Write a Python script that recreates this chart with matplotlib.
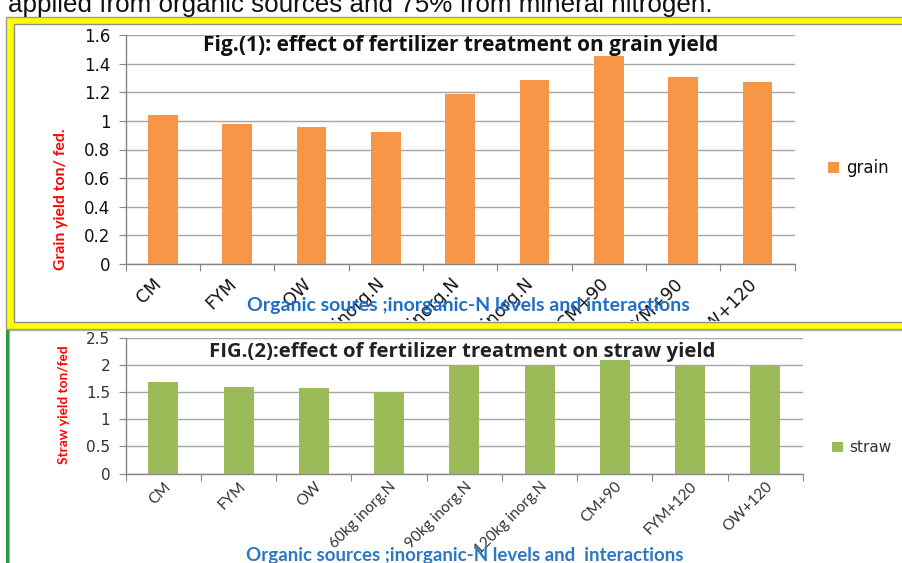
import matplotlib
matplotlib.use("Agg")
import matplotlib.pyplot as plt
from matplotlib.patches import Rectangle
from matplotlib.transforms import Bbox, ScaledTranslation

W, H = 903, 563

treatments_grain = ['CM', 'FYM', 'OW', '60kg inorg.N', '90kg inorg.N', '120kg inorg.N',
                    'CM+90', 'FYM+90', 'OW+120']
treatments_straw = ['CM', 'FYM', 'OW', '60kg inorg.N', '90kg inorg.N', '120kg inorg.N',
                    'CM+90', 'FYM+120', 'OW+120']
grain = [1.04, 0.98, 0.96, 0.925, 1.19, 1.285, 1.455, 1.31, 1.275]
straw = [1.68, 1.60, 1.58, 1.50, 1.98, 2.01, 2.10, 2.00, 2.00]
grain_ticks = [0, 0.2, 0.4, 0.6, 0.8, 1, 1.2, 1.4, 1.6]
straw_ticks = [0, 0.5, 1, 1.5, 2, 2.5]


def box(x0, y0, x1, y1):
    # pixel box (top-left origin) -> figure fraction [l, b, w, h]
    return [x0 / W, 1 - y1 / H, (x1 - x0) / W, (y1 - y0) / H]


def fx(x):
    return x / W


def fy(y):
    return 1 - y / H


def rect(x0, y0, x1, y1, **kw):
    r = Rectangle((fx(x0), fy(y1)), fx(x1) - fx(x0), fy(y0) - fy(y1),
                  transform=fig.transFigure, zorder=-1, **kw)
    fig.patches.append(r)
    return r


def setup_axes(ax, values, labels, yticks, color, tick_size, tick_color, xlab_size,
               xlab_font, pad, shift):
    n = len(values)
    xs = [i + 0.5 for i in range(n)]
    ax.bar(xs, values, width=0.4, color=color, zorder=3)
    ax.set_xlim(0, n)
    ax.set_ylim(yticks[0], yticks[-1])
    ax.set_yticks(yticks)
    ax.set_yticklabels(['%g' % v for v in yticks], fontsize=tick_size, color=tick_color,
                       family='DejaVu Sans')
    ax.set_xticks(range(n + 1))
    ax.set_xticklabels([])
    ax.set_xticks(xs, minor=True)
    ax.set_xticklabels(labels, minor=True, rotation=45, ha='right', va='top',
                       rotation_mode='anchor', fontsize=xlab_size, family=xlab_font,
                       color=tick_color)
    ax.tick_params(axis='x', which='minor', length=0, pad=pad)
    ax.tick_params(axis='x', which='major', length=5, color='#868686', direction='out')
    ax.tick_params(axis='y', length=5, color='#868686', direction='out', pad=6)
    ax.grid(axis='y', color='#a6a6a6', linewidth=1, zorder=0)
    for s in ['top', 'right']:
        ax.spines[s].set_visible(False)
    for s in ['left', 'bottom']:
        ax.spines[s].set_color('#868686')
        ax.spines[s].set_linewidth(1)
    ax.set_facecolor('none')
    ax.set_zorder(2)
    off = ScaledTranslation(shift[0] / 100, shift[1] / 100, fig.dpi_scale_trans)
    for t in ax.get_xticklabels(minor=True):
        t.set_transform(t.get_transform() + off)


fig = plt.figure(figsize=(W / 100, H / 100), dpi=100)

# top line of page text, cut off by the page edge
fig.text(fx(8), fy(12), 'applied from organic sources and 75% from mineral nitrogen.',
         fontsize=18.7, family='Liberation Sans', va='baseline', ha='left', color='#111111')

# yellow frame for figure 1
rect(6, 17, 910, 329, facecolor='#ffff00', edgecolor='#9a9a9a', linewidth=1)
rect(14, 24, 910, 322, facecolor='white', edgecolor='#8c8c8c', linewidth=1)

# frame for figure 2
rect(9, 330, 910, 570, facecolor='white', edgecolor='#b0b0b0', linewidth=1)
rect(6.5, 330, 9, 570, facecolor='#2e9a46', edgecolor='none')

# figure 1: grain
ax1 = fig.add_axes(box(125.7, 35, 794.7, 264))
setup_axes(ax1, grain, treatments_grain, grain_ticks, '#f79646', 12, '#111111', 12.5,
           'DejaVu Sans', 8, (-10, 0))
clip = Bbox.from_extents(0, H - 321, W, H)
for t in ax1.get_xticklabels(minor=True):
    t.set_clip_box(clip)
    t.set_clip_on(True)

fig.text(fx(461), fy(46), 'Fig.(1): effect of fertilizer treatment on grain yield',
         fontsize=15, fontweight='bold', family='Open Sans', ha='center', va='center',
         color='#111111', zorder=5)
fig.text(fx(61), fy(199), 'Grain yield ton/ fed.', rotation=90, fontsize=11.3,
         fontweight='bold', family='Lato', color='#ff0000', ha='center', va='center')
fig.text(fx(468), fy(306), 'Organic soures ;inorganic-N levels and interactions',
         fontsize=14, fontweight='bold', family='Lato', color='#1f6fc8', ha='center',
         va='center', zorder=5)
rect(828, 162, 839, 173, facecolor='#f79646', edgecolor='none')
fig.text(fx(846), fy(168), 'grain', fontsize=12, family='DejaVu Sans', color='#111111',
         ha='left', va='center')

# figure 2: straw
ax2 = fig.add_axes(box(125.7, 338, 803, 473.5))
setup_axes(ax2, straw, treatments_straw, straw_ticks, '#9bbb59', 11, '#333333', 11,
           'Lato', 8, (0, 5))
fig.text(fx(462), fy(352), 'FIG.(2):effect of fertilizer treatment on straw yield',
         fontsize=14.7, fontweight='bold', family='Open Sans', ha='center', va='center',
         color='#222222', zorder=5)
fig.text(fx(64), fy(405), 'Straw yield ton/fed', rotation=90, fontsize=9.8,
         fontweight='bold', family='Lato', color='#ff0000', ha='center', va='center')
fig.text(fx(465), fy(555), 'Organic sources ;inorganic-N levels and  interactions',
         fontsize=13.5, fontweight='bold', family='Lato', color='#2b78c6', ha='center',
         va='center')
rect(832, 442, 843, 452, facecolor='#9bbb59', edgecolor='none')
fig.text(fx(849), fy(447), 'straw', fontsize=11, family='DejaVu Sans', color='#333333',
         ha='left', va='center')

fig.savefig('out.png', dpi=100)
